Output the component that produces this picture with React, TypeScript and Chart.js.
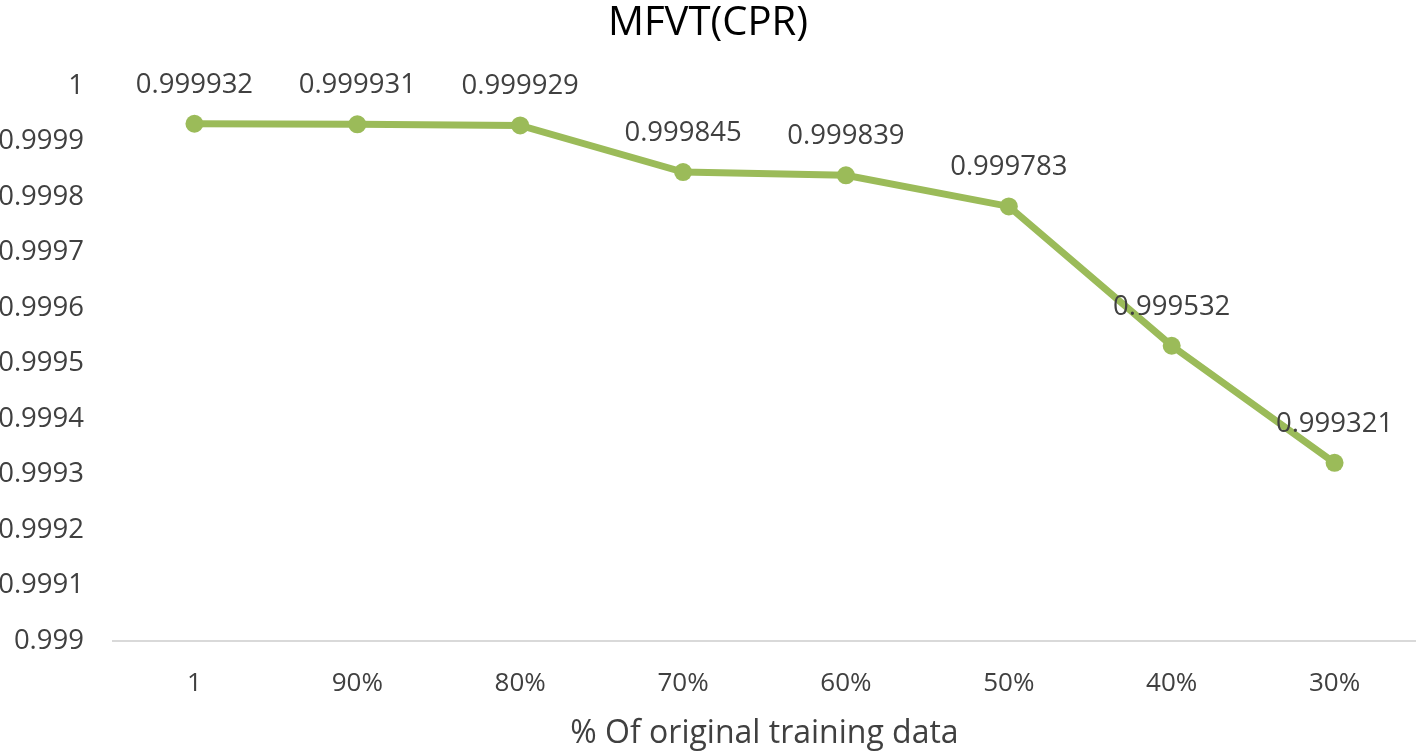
import React, { useEffect, useRef } from "react";
import { Chart, registerables } from "chart.js";

Chart.register(...registerables);

const categories: string[] = ["1", "90%", "80%", "70%", "60%", "50%", "40%", "30%"];
const values: number[] = [0.999932, 0.999931, 0.999929, 0.999845, 0.999839, 0.999783, 0.999532, 0.999321];
const labelTexts: string[] = ["0.999932", "0.999931", "0.999929", "0.999845", "0.999839", "0.999783", "0.999532", "0.999321"];
const yMin = 0.999;
const yMax = 1;
const yStep = 0.0001;

const FONT = "'Open Sans', 'Noto Sans', sans-serif";

const dataLabelPlugin = {
  id: "dataLabels",
  afterDatasetsDraw(chart: any) {
    const ctx = chart.ctx;
    const meta = chart.getDatasetMeta(0);
    ctx.save();
    ctx.font = `27.5px ${FONT}`;
    ctx.fillStyle = "#404040";
    ctx.textAlign = "center";
    ctx.textBaseline = "middle";
    meta.data.forEach((pt: any, i: number) => {
      ctx.fillText(labelTexts[i], pt.x, pt.y - 39);
    });
    ctx.restore();
  },
};

export default function App() {
  const ref = useRef<HTMLCanvasElement | null>(null);
  useEffect(() => {
    if (!ref.current) return;
    const chart = new Chart(ref.current, {
      type: "line",
      data: {
        labels: categories,
        datasets: [
          {
            data: values,
            borderColor: "#9BBB59",
            backgroundColor: "#9BBB59",
            borderWidth: 7,
            pointRadius: 9,
            pointHoverRadius: 9,
            pointBackgroundColor: "#9BBB59",
            pointBorderWidth: 0,
            tension: 0,
            clip: false as any,
          },
        ],
      },
      options: {
        responsive: false,
        animation: false,
        maintainAspectRatio: false,
        layout: { autoPadding: false, padding: { left: 0, right: 0, top: 0, bottom: 0 } },
        plugins: {
          legend: { display: false },
          tooltip: { enabled: false },
          title: {
            display: true,
            text: "MFVT(CPR)",
            color: "#000000",
            font: { family: FONT, size: 40, weight: "normal" },
            padding: { top: 0, bottom: 38 },
          },
        },
        scales: {
          x: {
            type: "category",
            offset: true,
            grid: { display: false, drawTicks: false },
            border: { display: true, color: "#D9D9D9", width: 2 },
            ticks: {
              color: "#404040",
              font: { family: FONT, size: 26 },
              padding: 27,
              maxRotation: 0,
            },
            title: {
              display: true,
              text: "% Of original training data",
              color: "#404040",
              font: { family: FONT, size: 32 },
              padding: { top: 0, bottom: 0 },
            },
            afterFit(scale: any) {
              scale.height = 112;
              scale.paddingLeft = 0;
              scale.paddingRight = 0;
            },
          },
          y: {
            min: yMin,
            max: yMax,
            grid: { display: false, drawTicks: false },
            border: { display: false },
            ticks: {
              stepSize: yStep,
              color: "#404040",
              font: { family: FONT, size: 27.5 },
              padding: 29,
              callback: (v: any) => String(Number(Number(v).toFixed(4))),
            },
            afterFit(scale: any) {
              scale.width = 113;
            },
          },
        },
      },
      plugins: [dataLabelPlugin],
    });
    return () => chart.destroy();
  }, []);
  return (
    <div style={{ position: "absolute", left: 0, top: 0, width: 1416, height: 753, background: "#fff" }}>
      <canvas ref={ref} width={1416} height={753} style={{ display: "block" }} />
    </div>
  );
}
